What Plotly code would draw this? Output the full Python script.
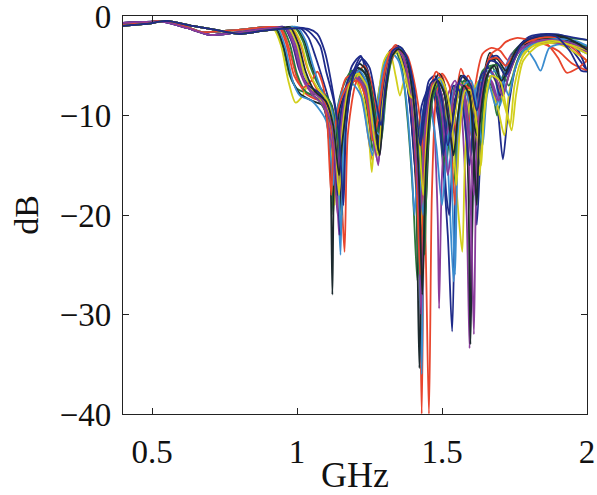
import plotly.graph_objects as go

# Low-band (0.4-0.94 GHz) shapes shared by groups of traces
low_a = [(0.40, -0.9), (0.47, -0.7), (0.53, -0.5), (0.60, -0.9), (0.67, -1.6), (0.75, -1.5), (0.83, -1.3), (0.90, -1.1)]
low_b = [(0.40, -0.7), (0.47, -0.6), (0.54, -0.6), (0.62, -1.2), (0.70, -1.9), (0.78, -1.7), (0.86, -1.4), (0.92, -1.2)]
low_c = [(0.40, -1.0), (0.48, -0.8), (0.55, -0.5), (0.64, -1.0), (0.72, -1.4), (0.80, -1.8), (0.88, -1.5), (0.94, -1.3)]

c01 = [(1.02,-1.2),(1.05,-1.8),(1.08,-3),(1.10,-5.5),(1.13,-9),(1.155,-18),(1.165,-9),(1.19,-5),(1.22,-4),(1.245,-7),(1.27,-13),(1.29,-8),(1.32,-3.5),(1.345,-3.2),(1.37,-5),(1.39,-9),(1.41,-16),(1.43,-9),(1.46,-7),(1.49,-11),(1.52,-22),(1.535,-31.7),(1.55,-14),(1.57,-7.5),(1.59,-8),(1.61,-14),(1.62,-21),(1.64,-10),(1.66,-6),(1.69,-9),(1.71,-14.4),(1.73,-9),(1.76,-4.5),(1.80,-3),(1.85,-2.3),(1.90,-2.4),(1.95,-3.5),(2.0,-5.5)]
c02 = [(0.925,-1.3),(0.95,-3),(0.975,-6),(1.0,-7.3),(1.04,-7.8),(1.08,-8),(1.11,-11),(1.125,-20),(1.135,-10),(1.16,-7),(1.19,-5.5),(1.22,-6.5),(1.25,-11),(1.26,-13.5),(1.28,-8),(1.31,-4),(1.335,-3.3),(1.36,-5),(1.38,-10),(1.40,-18),(1.415,-26.6),(1.43,-14),(1.45,-8.5),(1.47,-7.5),(1.49,-10),(1.51,-16),(1.525,-12),(1.545,-7),(1.565,-7.5),(1.585,-13),(1.60,-20),(1.615,-11),(1.64,-6),(1.67,-7),(1.69,-10),(1.71,-7),(1.74,-4),(1.78,-3),(1.84,-2.4),(1.90,-2.3),(1.95,-2.6),(2.0,-3.2)]
c03 = [(0.945,-1.2),(0.97,-3),(1.0,-6.2),(1.03,-7.8),(1.06,-8.3),(1.09,-8.6),(1.11,-10),(1.13,-15),(1.145,-9),(1.17,-6.2),(1.20,-6),(1.23,-9),(1.26,-14.5),(1.28,-9),(1.31,-4.5),(1.34,-2.9),(1.37,-4),(1.40,-8),(1.42,-20),(1.43,-40),(1.44,-18),(1.46,-9),(1.48,-6.5),(1.50,-6),(1.515,-8),(1.53,-12),(1.545,-9),(1.565,-5.3),(1.585,-7),(1.60,-12),(1.615,-7),(1.64,-3.8),(1.67,-3.2),(1.70,-3.5),(1.73,-4.5),(1.76,-3.5),(1.80,-2.8),(1.86,-2.8),(1.90,-4.2),(1.93,-5.7),(1.97,-5.2),(2.0,-4.5)]
c04 = [(0.965,-1.2),(0.995,-2.8),(1.02,-5.5),(1.05,-7.2),(1.09,-8.5),(1.125,-11),(1.14,-17),(1.15,-24),(1.16,-12),(1.18,-7.5),(1.21,-6),(1.24,-7),(1.265,-11),(1.28,-12.5),(1.30,-7),(1.33,-3.8),(1.355,-3.5),(1.38,-5.5),(1.40,-10),(1.42,-22),(1.43,-36),(1.44,-16),(1.46,-8),(1.48,-7),(1.50,-9),(1.52,-15),(1.54,-26.7),(1.555,-12),(1.575,-7),(1.595,-9),(1.61,-14),(1.625,-9),(1.65,-5.5),(1.68,-6),(1.70,-9),(1.72,-6),(1.75,-3.8),(1.80,-2.8),(1.86,-2.4),(1.92,-2.6),(2.0,-3)]
c05 = [(0.955,-1.1),(0.98,-2.4),(1.005,-5.2),(1.035,-7.2),(1.07,-8),(1.115,-10),(1.135,-16),(1.145,-22),(1.155,-10),(1.18,-6.5),(1.21,-5.5),(1.24,-7.5),(1.27,-12),(1.285,-14),(1.30,-8),(1.325,-4),(1.35,-3.4),(1.375,-5),(1.40,-9),(1.42,-16),(1.435,-12),(1.455,-8),(1.47,-10),(1.485,-20),(1.49,-29.4),(1.50,-16),(1.52,-8),(1.545,-6.5),(1.565,-9),(1.585,-20),(1.595,-33.4),(1.605,-16),(1.63,-7),(1.66,-6),(1.69,-8.5),(1.71,-6),(1.74,-3.8),(1.79,-2.9),(1.85,-2.4),(1.92,-2.7),(2.0,-3.5)]
c06 = [(0.92,-1.3),(0.945,-3),(0.97,-6.5),(0.995,-8.7),(1.02,-8),(1.04,-6.8),(1.06,-7.5),(1.09,-9),(1.115,-12),(1.13,-19),(1.14,-11),(1.17,-8),(1.20,-6.5),(1.23,-8.5),(1.25,-13),(1.258,-15.7),(1.27,-11),(1.30,-4.5),(1.32,-3.6),(1.34,-6),(1.355,-8),(1.37,-6.5),(1.39,-8),(1.41,-14),(1.425,-22),(1.44,-13),(1.46,-8),(1.48,-7),(1.50,-8),(1.52,-12),(1.545,-16),(1.56,-21),(1.57,-23.7),(1.58,-14),(1.60,-8),(1.63,-6.5),(1.66,-7),(1.69,-9),(1.715,-12),(1.73,-8),(1.76,-4.5),(1.80,-3.2),(1.86,-2.7),(1.92,-3),(2.0,-4.5)]
c07 = [(0.93,-1.3),(0.955,-3.2),(0.98,-6.2),(1.01,-7.8),(1.05,-8.5),(1.09,-9),(1.105,-11),(1.115,-15),(1.122,-28),(1.13,-14),(1.15,-9),(1.18,-7),(1.21,-6.2),(1.24,-8),(1.265,-12.5),(1.275,-13),(1.29,-8),(1.32,-4),(1.345,-3.3),(1.37,-5),(1.39,-9),(1.41,-17),(1.422,-35.4),(1.435,-16),(1.455,-8.5),(1.475,-6.5),(1.50,-8),(1.52,-13),(1.53,-11),(1.55,-8),(1.575,-8.5),(1.59,-16),(1.598,-33),(1.61,-15),(1.635,-7.5),(1.665,-3.7),(1.69,-5),(1.71,-8),(1.73,-6),(1.76,-3.8),(1.80,-2.6),(1.86,-2.2),(1.92,-2.3),(2.0,-3.2)]
c08 = [(1.01,-1.2),(1.04,-2.2),(1.065,-4.2),(1.09,-6.5),(1.11,-8.5),(1.135,-13),(1.148,-22),(1.16,-12),(1.19,-6),(1.22,-4.1),(1.245,-5.5),(1.27,-10),(1.285,-11.5),(1.30,-7),(1.33,-3.4),(1.35,-3),(1.375,-4.5),(1.40,-8),(1.42,-14),(1.435,-10),(1.455,-6.5),(1.475,-6),(1.495,-9),(1.515,-18),(1.525,-20),(1.54,-12),(1.56,-7),(1.58,-6.5),(1.60,-8),(1.62,-11),(1.64,-7),(1.665,-4.2),(1.69,-4),(1.72,-5),(1.75,-3.5),(1.80,-2.1),(1.86,-1.8),(1.92,-2),(1.97,-3.5),(2.0,-5.5)]
c09 = [(0.95,-1.2),(0.975,-2.8),(1.0,-5.8),(1.03,-7.6),(1.07,-8.3),(1.12,-11),(1.135,-18),(1.145,-11),(1.17,-7.5),(1.20,-5.8),(1.23,-7),(1.26,-12),(1.275,-13.5),(1.29,-9),(1.32,-4.2),(1.345,-3.2),(1.37,-4.8),(1.395,-9),(1.41,-16),(1.42,-26),(1.43,-14),(1.45,-8),(1.47,-7),(1.49,-9),(1.51,-15),(1.52,-13),(1.54,-8),(1.565,-6.5),(1.585,-9),(1.60,-14),(1.615,-9),(1.64,-5.5),(1.67,-5),(1.70,-6.5),(1.72,-5.5),(1.75,-3.5),(1.80,-2.4),(1.86,-2.1),(1.93,-2.2),(2.0,-2.4)]
c10 = [(0.98,-1.2),(1.01,-2.6),(1.035,-5.2),(1.065,-7.2),(1.10,-8.8),(1.14,-13),(1.155,-19),(1.164,-23.7),(1.175,-12),(1.20,-7),(1.23,-5),(1.255,-6.5),(1.28,-10.5),(1.30,-9),(1.32,-5),(1.35,-3.2),(1.38,-4),(1.41,-7.5),(1.435,-14),(1.455,-40),(1.465,-18),(1.48,-8),(1.50,-5.8),(1.525,-7),(1.545,-11),(1.555,-13),(1.57,-8),(1.59,-6),(1.61,-7.5),(1.625,-10),(1.645,-6),(1.67,-3.8),(1.70,-3.2),(1.72,-2.6),(1.76,-2.2),(1.80,-2.4),(1.85,-2.8),(1.90,-3.5),(1.95,-4.8),(2.0,-5.5)]
c11 = [(0.935,-1.3),(0.96,-3.2),(0.985,-6.5),(1.01,-8),(1.05,-8.5),(1.10,-10.5),(1.125,-17),(1.135,-10),(1.16,-7.5),(1.19,-6.8),(1.22,-8),(1.245,-12),(1.26,-14),(1.275,-10),(1.30,-5),(1.325,-3.7),(1.35,-4.5),(1.375,-8),(1.395,-15),(1.405,-20),(1.42,-13),(1.44,-9),(1.46,-9.5),(1.48,-13),(1.50,-19),(1.515,-14),(1.535,-8),(1.555,-7),(1.575,-9.5),(1.59,-13),(1.605,-9),(1.63,-6.5),(1.66,-6.8),(1.685,-9),(1.70,-8),(1.73,-4.5),(1.78,-3),(1.82,-4.5),(1.84,-5.5),(1.87,-3.2),(1.92,-2.8),(2.0,-3.8)]
c12 = [(0.965,-1.2),(0.995,-3),(1.02,-6),(1.05,-7.8),(1.09,-9),(1.125,-14),(1.14,-20),(1.15,-11),(1.175,-7.2),(1.205,-6),(1.235,-7.5),(1.26,-12),(1.28,-14.8),(1.295,-9),(1.32,-4.5),(1.345,-3.5),(1.37,-4.5),(1.395,-8.5),(1.415,-15),(1.428,-30),(1.44,-15),(1.46,-8),(1.48,-7.5),(1.50,-10),(1.52,-16),(1.53,-14),(1.55,-8.5),(1.57,-7.5),(1.585,-11),(1.60,-20),(1.61,-32),(1.62,-15),(1.645,-7),(1.67,-6.5),(1.695,-8.5),(1.715,-6.5),(1.745,-4),(1.79,-3),(1.86,-2.6),(1.93,-2.9),(2.0,-3.6)]
c13 = [(0.97,-1.2),(1.0,-2.8),(1.025,-5.8),(1.055,-7.5),(1.09,-8.2),(1.12,-10.5),(1.14,-16),(1.152,-21),(1.165,-11),(1.19,-6.8),(1.22,-5.8),(1.25,-7.5),(1.27,-11),(1.285,-12),(1.30,-7.5),(1.325,-4.2),(1.35,-3.5),(1.375,-5),(1.40,-9.5),(1.42,-17),(1.435,-22),(1.45,-13),(1.47,-7.5),(1.49,-6.5),(1.51,-8),(1.53,-12),(1.545,-10),(1.565,-6.8),(1.59,-7),(1.615,-11),(1.63,-16),(1.645,-9),(1.67,-6),(1.70,-7.5),(1.725,-10),(1.74,-11.5),(1.755,-8),(1.78,-4.5),(1.83,-3),(1.90,-2.6),(1.95,-2.9),(2.0,-3.4)]
c14 = [(0.995,-1.2),(1.025,-2.5),(1.05,-5),(1.08,-7.2),(1.12,-9),(1.14,-14),(1.155,-20),(1.165,-12),(1.19,-6.5),(1.215,-4.8),(1.24,-5.5),(1.265,-9),(1.285,-13),(1.30,-8),(1.325,-3.8),(1.35,-3.1),(1.375,-4.2),(1.40,-7.5),(1.42,-13),(1.44,-21),(1.455,-12),(1.47,-7),(1.49,-5.8),(1.51,-7),(1.53,-11),(1.545,-9),(1.565,-6),(1.585,-6.5),(1.605,-10),(1.62,-12),(1.64,-7),(1.665,-4.5),(1.69,-4.3),(1.72,-5.5),(1.745,-4),(1.78,-2.6),(1.84,-2.0),(1.90,-2.1),(1.96,-2.6),(2.0,-3.2)]
c15 = [(0.955,-1.1),(0.985,-2.8),(1.01,-5.5),(1.04,-7),(1.08,-7.8),(1.115,-9.5),(1.13,-14),(1.14,-18),(1.15,-10),(1.175,-6.5),(1.205,-5.2),(1.235,-6.5),(1.26,-11),(1.278,-13.5),(1.29,-9),(1.315,-4.5),(1.34,-3.3),(1.365,-4.5),(1.385,-8),(1.405,-14),(1.415,-18),(1.43,-11),(1.45,-7.5),(1.47,-7.2),(1.49,-10),(1.505,-14),(1.52,-10),(1.54,-7),(1.56,-7.5),(1.58,-11),(1.595,-15),(1.61,-10),(1.635,-6),(1.66,-5.2),(1.685,-6.5),(1.70,-8),(1.72,-6),(1.745,-4),(1.78,-2.8),(1.84,-2.0),(1.90,-1.9),(1.96,-2.2),(2.0,-2.4)]
c16 = [(0.99,-1.1),(1.02,-2.5),(1.045,-5),(1.075,-7),(1.115,-8.7),(1.14,-12),(1.155,-17),(1.165,-11),(1.19,-6.8),(1.22,-5.3),(1.25,-6.8),(1.275,-11),(1.29,-12.5),(1.31,-7),(1.335,-3.6),(1.36,-3.2),(1.385,-4.8),(1.41,-9),(1.43,-16),(1.44,-24),(1.45,-14),(1.47,-8),(1.49,-6.8),(1.51,-8),(1.53,-14),(1.54,-17),(1.555,-10),(1.575,-6.5),(1.595,-7),(1.615,-10),(1.63,-13),(1.645,-8),(1.67,-5),(1.70,-5),(1.73,-7),(1.745,-6),(1.77,-3.8),(1.81,-2.8),(1.87,-2.5),(1.94,-2.7),(2.0,-3)]
c17 = [(0.94,-1.2),(0.965,-3),(0.99,-6),(1.02,-7.2),(1.05,-6.5),(1.07,-5.6),(1.09,-7),(1.105,-11),(1.118,-18),(1.128,-12),(1.15,-8.5),(1.18,-6.8),(1.21,-6.5),(1.24,-8.5),(1.26,-12.5),(1.275,-11),(1.30,-6),(1.325,-3.4),(1.35,-3.1),(1.375,-5),(1.395,-9),(1.41,-15),(1.425,-26),(1.44,-14),(1.46,-7.5),(1.48,-5.6),(1.50,-6.5),(1.52,-10),(1.535,-15),(1.545,-19),(1.56,-11),(1.58,-7),(1.60,-7.5),(1.62,-10.5),(1.635,-8),(1.66,-4.5),(1.69,-4.2),(1.72,-5),(1.745,-4),(1.78,-2.8),(1.84,-2.2),(1.90,-2.2),(1.95,-3.2),(2.0,-4.5)]
c18 = [(1.0,-1.1),(1.03,-2.5),(1.055,-5),(1.085,-7.5),(1.12,-9.5),(1.14,-15),(1.152,-22),(1.162,-12),(1.185,-7),(1.215,-5.5),(1.245,-7),(1.27,-11.5),(1.29,-12),(1.305,-7),(1.33,-3.6),(1.355,-3.2),(1.38,-4.5),(1.40,-8),(1.42,-15),(1.435,-20),(1.45,-12),(1.47,-7),(1.49,-6.2),(1.51,-8),(1.53,-14),(1.545,-26),(1.555,-13),(1.575,-7),(1.60,-6.5),(1.62,-9),(1.64,-13),(1.655,-8),(1.68,-5.5),(1.71,-6.5),(1.73,-8),(1.75,-5.5),(1.78,-3.5),(1.83,-2.6),(1.90,-2.3),(1.96,-2.5),(2.0,-3)]
c19 = [(0.96,-1.2),(0.99,-3),(1.015,-5.8),(1.045,-7.4),(1.085,-8.4),(1.12,-11),(1.14,-17),(1.15,-12),(1.17,-8),(1.20,-6.2),(1.23,-7),(1.26,-11),(1.28,-15),(1.29,-11),(1.315,-5),(1.34,-3.3),(1.365,-4),(1.39,-7.5),(1.41,-14),(1.425,-20),(1.44,-12),(1.46,-7.5),(1.48,-6.5),(1.50,-8),(1.515,-12),(1.53,-10),(1.55,-6.8),(1.57,-7),(1.59,-10.5),(1.61,-18),(1.62,-13),(1.64,-7),(1.665,-5.5),(1.69,-6.5),(1.71,-8),(1.73,-6),(1.76,-3.8),(1.80,-2.8),(1.86,-2.4),(1.93,-2.6),(2.0,-3.3)]
c20 = [(0.985,-1.2),(1.015,-2.8),(1.04,-5.5),(1.07,-7.2),(1.105,-8.5),(1.13,-12),(1.145,-18),(1.158,-11),(1.18,-7),(1.21,-5.8),(1.24,-7),(1.265,-12),(1.28,-14),(1.295,-9),(1.32,-4.5),(1.345,-3.5),(1.37,-5.5),(1.39,-8),(1.405,-8.5),(1.42,-12),(1.435,-18),(1.45,-11),(1.47,-7),(1.495,-6.3),(1.515,-7.5),(1.535,-11),(1.55,-17),(1.56,-12),(1.58,-7.5),(1.60,-7.5),(1.62,-11),(1.635,-15),(1.645,-10),(1.67,-6),(1.70,-6.5),(1.72,-9),(1.735,-11),(1.75,-7),(1.78,-4),(1.82,-2.9),(1.88,-2.5),(1.94,-2.9),(2.0,-3.8)]
c21 = [(0.975,-1.1),(1.005,-2.8),(1.03,-5.6),(1.06,-7.5),(1.10,-8.6),(1.125,-11),(1.145,-16),(1.155,-13),(1.18,-7.5),(1.21,-5.2),(1.24,-6),(1.265,-10),(1.285,-14),(1.30,-9),(1.325,-4.2),(1.35,-3.3),(1.375,-4),(1.40,-8),(1.42,-16),(1.432,-28),(1.445,-15),(1.465,-8),(1.485,-6.5),(1.505,-7.5),(1.525,-11),(1.54,-14),(1.555,-10),(1.575,-7),(1.595,-8),(1.61,-14),(1.62,-19),(1.63,-11),(1.655,-6),(1.68,-5),(1.705,-6.5),(1.725,-5.5),(1.755,-3.5),(1.80,-2.3),(1.86,-1.9),(1.92,-2.1),(1.97,-2.8),(2.0,-3.4)]
c22 = [(1.04,-1.3),(1.07,-1.8),(1.095,-3.5),(1.12,-7),(1.145,-12),(1.16,-19),(1.17,-11),(1.195,-6),(1.225,-4.3),(1.25,-5.2),(1.275,-9),(1.29,-11),(1.305,-7),(1.33,-3.5),(1.355,-3.1),(1.38,-4.2),(1.405,-7.5),(1.425,-13),(1.44,-10),(1.46,-6.8),(1.48,-6.3),(1.50,-8.5),(1.52,-13),(1.535,-11),(1.555,-7),(1.575,-6),(1.60,-7),(1.62,-9.5),(1.64,-6.5),(1.665,-4.5),(1.69,-4.7),(1.72,-6),(1.745,-4.5),(1.78,-2.6),(1.83,-2),(1.89,-2),(1.94,-3.5),(1.98,-5.5),(2.0,-5.6)]

x_ticks = [0.5, 1, 1.5, 2]
x_tick_labels = ["0.5", "1", "1.5", "2"]
y_ticks = [0, -10, -20, -30, -40]
y_tick_labels = ["0", "\u221210", "\u221220", "\u221230", "\u221240"]

traces = [c01, c02, c03, c04, c05, c06, c07, c08, c09, c10, c11,
          c12, c13, c14, c15, c16, c17, c18, c19, c20, c21, c22]
lows = [low_c, low_a, low_a, low_b, low_b, low_a, low_a,
        low_c, low_b, low_c, low_a, low_b, low_c, low_c,
        low_b, low_c, low_a, low_c, low_b, low_c, low_c, low_c]
palette = ["#1f2b8a", "#2b7a3c", "#e8452d", "#3a8ccf", "#8a3c9c", "#d2cf1c", "#1c2a2e"]

fig = go.Figure()
for i, (curve, low) in enumerate(zip(traces, lows)):
    pts = low + curve
    fig.add_trace(go.Scatter(
        x=[p[0] for p in pts], y=[p[1] for p in pts], mode="lines",
        line=dict(color=palette[i % 7], width=1.8, shape="spline", smoothing=0.7),
        showlegend=False, hoverinfo="skip", cliponaxis=True))

font_family = "Liberation Serif, Times New Roman, serif"
fig.update_layout(
    width=597, height=495,
    margin=dict(l=123, r=10, t=16, b=81),
    paper_bgcolor="white", plot_bgcolor="white",
    font=dict(family=font_family, size=33, color="#111"),
    xaxis=dict(range=[0.4, 2.0], tickvals=x_ticks, ticktext=x_tick_labels, automargin=False,
               ticks="inside", ticklen=6, tickcolor="#222", showgrid=False, zeroline=False,
               showline=True, linecolor="#222", linewidth=1.3, mirror="allticks",
               ticklabelstandoff=8, ticklabeloverflow="allow",
               title=dict(text="GHz", font=dict(size=36), standoff=0)),
    yaxis=dict(range=[-40, 0], tickvals=y_ticks, ticktext=y_tick_labels, automargin=False,
               ticks="inside", ticklen=6, tickcolor="#222", showgrid=False, zeroline=False,
               showline=True, linecolor="#222", linewidth=1.3, mirror="allticks",
               ticklabelstandoff=4, ticklabeloverflow="allow",
               title=dict(text="dB", font=dict(size=34), standoff=10)),
)
fig.write_html("out.html", config={"displayModeBar": False},
               post_script="document.body.style.margin='0';document.body.style.overflow='hidden';")
